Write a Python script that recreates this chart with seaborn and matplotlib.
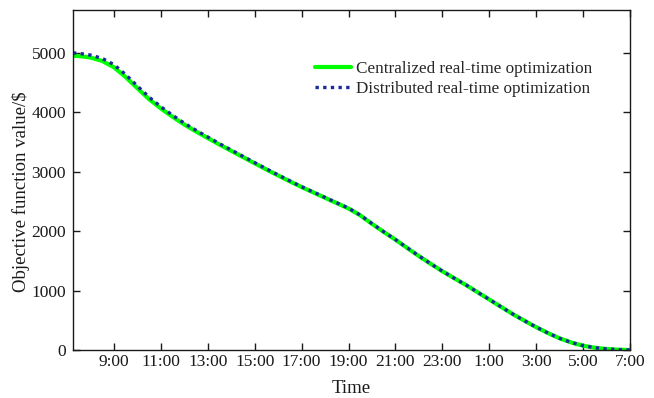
import numpy as np
import pandas as pd
import matplotlib
matplotlib.use("Agg")
import matplotlib.pyplot as plt
import seaborn as sns

# time in hours (31 = 7:00 next day)
hours = [7.25, 7.5, 8, 8.5, 9, 9.5, 10, 10.5, 11, 11.5, 12, 12.5, 13, 13.5, 14,
         14.5, 15, 15.5, 16, 16.5, 17, 17.5, 18, 18.5, 19, 19.5, 20, 20.5, 21,
         21.5, 22, 22.5, 23, 23.5, 24, 24.5, 25, 25.5, 26, 26.5, 27, 27.5, 28,
         28.5, 29, 29.5, 30, 30.5, 31]
centralized = [4950, 4945, 4920, 4862, 4755, 4590, 4402, 4218, 4062, 3922, 3792,
               3675, 3565, 3455, 3350, 3245, 3140, 3036, 2935, 2836, 2740, 2650,
               2560, 2470, 2380, 2265, 2122, 1986, 1855, 1717, 1580, 1450, 1325,
               1208, 1095, 972, 850, 726, 605, 492, 385, 286, 196, 126, 72, 38,
               17, 5, 0]
distributed = [4998, 4990, 4962, 4905, 4800, 4632, 4440, 4252, 4092, 3948, 3815,
               3695, 3583, 3471, 3365, 3258, 3152, 3047, 2945, 2845, 2748, 2657,
               2567, 2476, 2386, 2270, 2126, 1990, 1858, 1720, 1583, 1452, 1327,
               1210, 1097, 973, 851, 727, 606, 493, 386, 287, 197, 127, 73, 39,
               18, 6, 0]
tick_hours = [9, 11, 13, 15, 17, 19, 21, 23, 25, 27, 29, 31]
tick_labels = ["9:00", "11:00", "13:00", "15:00", "17:00", "19:00", "21:00",
               "23:00", "1:00", "3:00", "5:00", "7:00"]
y_ticks = [0, 1000, 2000, 3000, 4000, 5000]
series_names = ["Centralized real-time optimization",
                "Distributed real-time optimization"]

df = pd.DataFrame({
    "hour": hours * 2,
    "value": centralized + distributed,
    "series": [series_names[0]] * len(hours) + [series_names[1]] * len(hours),
})

sns.set_style("ticks")
plt.rcParams["font.family"] = ["Liberation Serif", "DejaVu Serif"]
plt.rcParams["mathtext.fontset"] = "stix"

fig = plt.figure(figsize=(6.54, 3.98), dpi=100)
ax = fig.add_axes([0.1116, 0.1206, 0.8516, 0.8543])

sns.lineplot(data=df, x="hour", y="value", hue="series", style="series",
             palette={series_names[0]: "#00ff00", series_names[1]: "#1a2a9a"},
             dashes={series_names[0]: "", series_names[1]: (1.0, 1.3)},
             ax=ax, legend=True)
for line, lw in zip(ax.lines[:2], [3.0, 2.4]):
    line.set_linewidth(lw)

ax.set_xlim(7.25, 31)
ax.set_ylim(0, 5720)
ax.set_xticks(tick_hours)
ax.set_xticklabels(tick_labels)
ax.set_yticks(y_ticks)
ax.tick_params(direction="in", length=5, width=1, labelsize=12.5, pad=5,
               top=True, right=True, colors="#1a1a1a", labelcolor="#1a1a1a")
ax.tick_params(axis="x", pad=3)
for s in ax.spines.values():
    s.set_visible(True)
    s.set_linewidth(1.0)
    s.set_color("#1a1a1a")
ax.set_xlabel("Time", fontsize=13.5, labelpad=7, color="#1a1a1a")
ax.set_ylabel("Objective function value/\\$", fontsize=13.5, color="#1a1a1a")
ax.yaxis.set_label_coords(-0.078, 0.465)

h, l = ax.get_legend_handles_labels()
for hh, lw in zip(h, [3.0, 2.4]):
    hh.set_linewidth(lw)
leg = ax.legend(h, l, loc="upper right", bbox_to_anchor=(0.944, 0.871),
                frameon=False, fontsize=12.3, handlelength=2.1,
                handletextpad=0.3, labelspacing=0.25, borderaxespad=0)

fig.savefig("out.png", dpi=100)
